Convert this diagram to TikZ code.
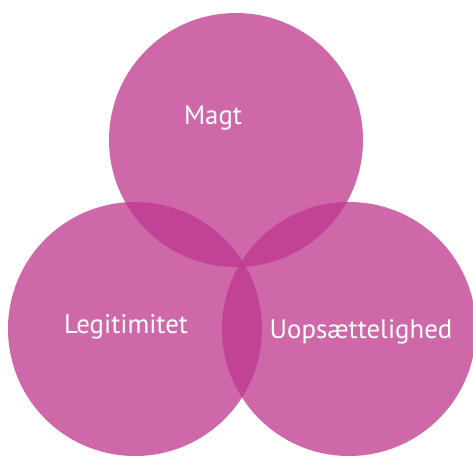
\documentclass[tikz,border=0pt]{standalone}
\usepackage{fontspec}
\setmainfont{PT Sans}
\definecolor{venn}{RGB}{190,55,142}
\begin{document}
\begin{tikzpicture}[x=1pt,y=-1pt,
  ring/.style={fill=venn,fill opacity=0.755,draw=none},
  label/.style={text=white,font=\fontsize{26.8}{30}\selectfont,anchor=base,inner sep=0pt}]
  \useasboundingbox (0,0) rectangle (473,457);
  % three overlapping translucent discs
  \fill[ring] (236,140) circle (127);
  \fill[ring] (135,329) circle (127);
  \fill[ring] (349,329) circle (127);
  \node[label] (magt) at (213,125) {Magt};
  \node[label] (legit) at (126,333) {Legitimitet};
  \node[label] (uops) at (361,338) {Uopsættelighed};
\end{tikzpicture}
\end{document}
